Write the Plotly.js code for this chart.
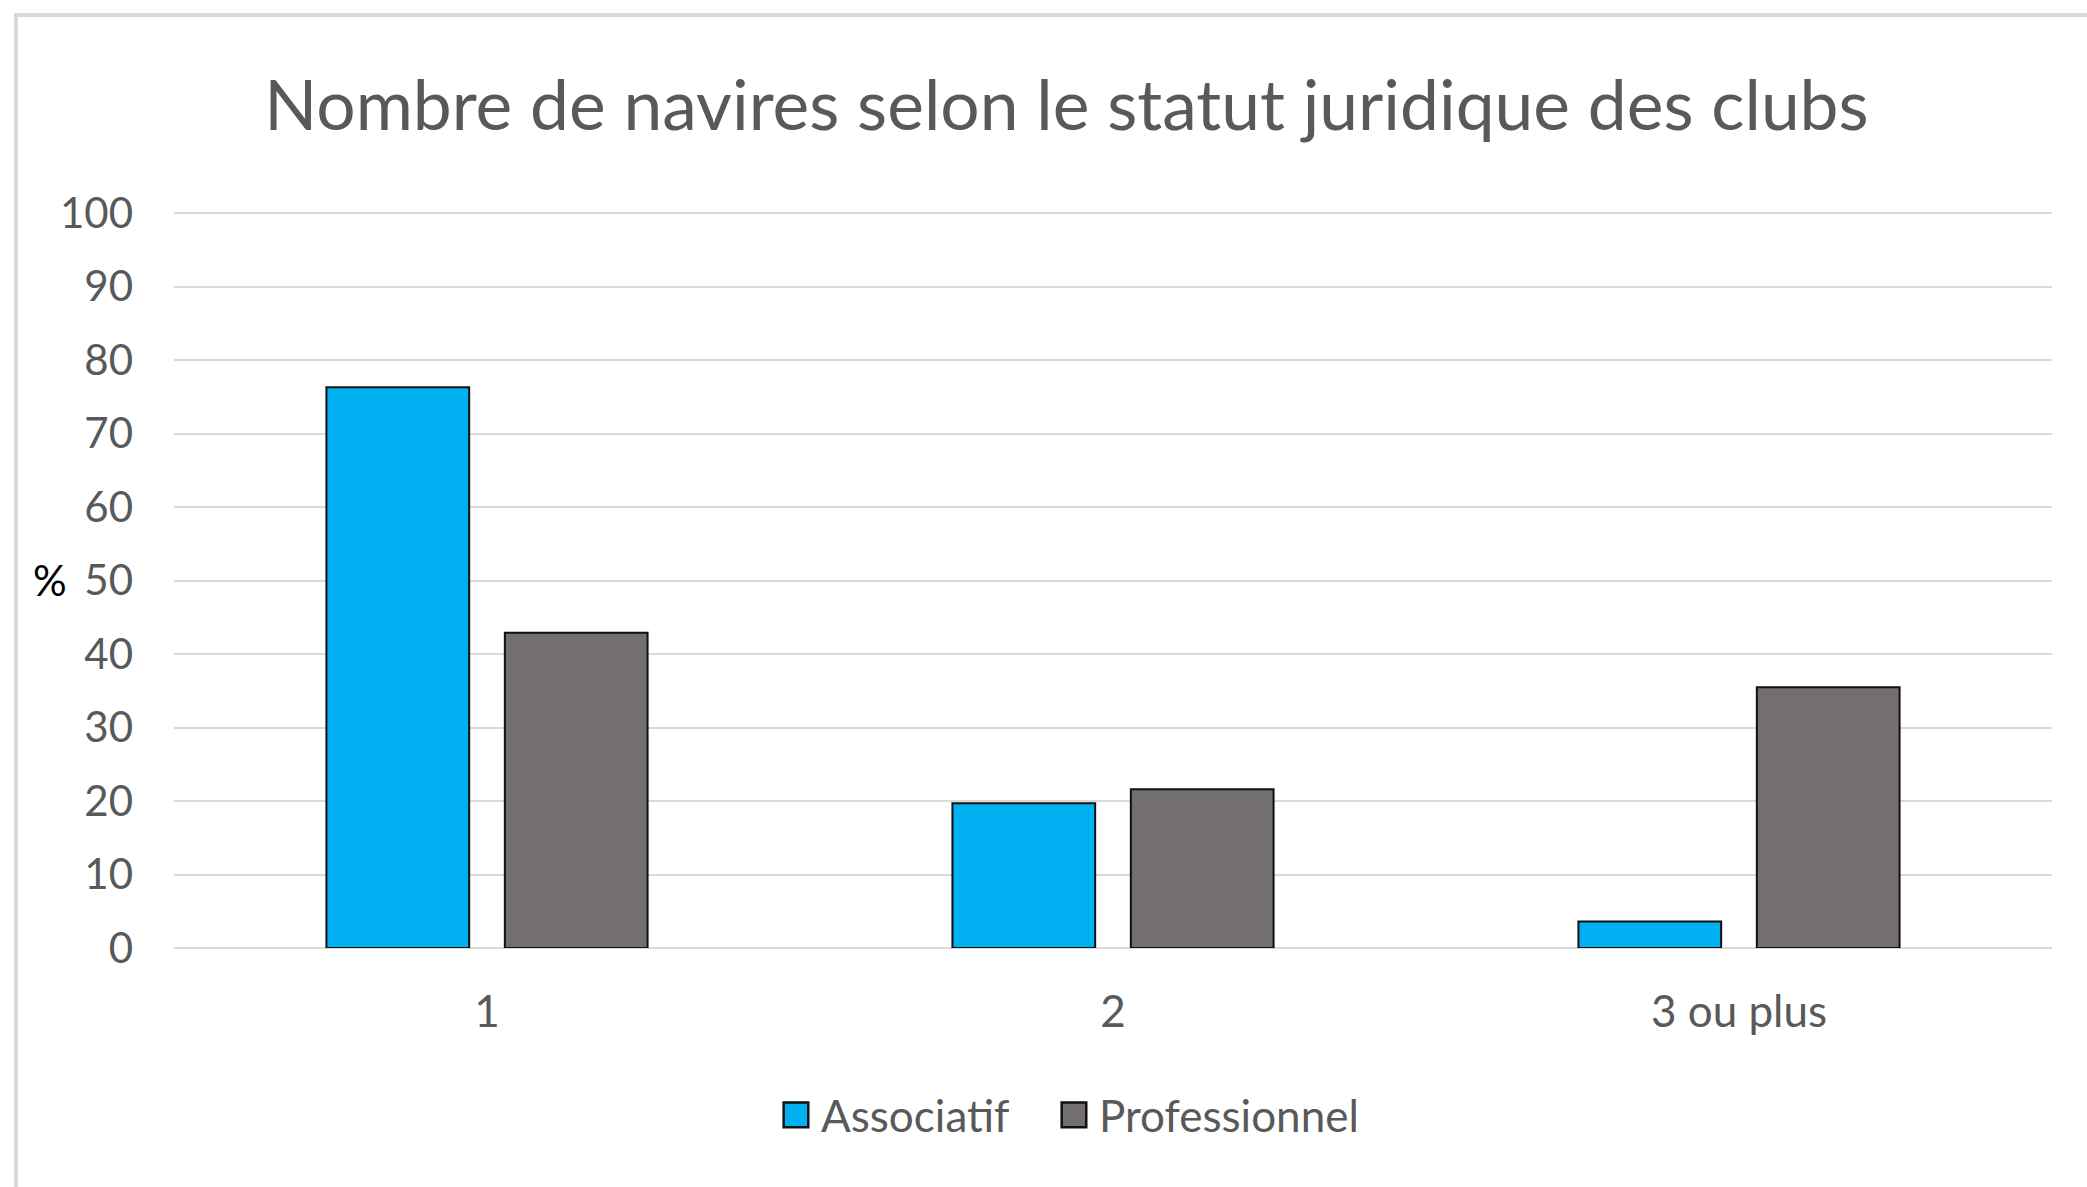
<!DOCTYPE html>
<html>
<head>
<meta charset="utf-8">
<script src="https://cdn.plot.ly/plotly-3.0.1.min.js"></script>
<style>
  html, body { margin: 0; padding: 0; background: #ffffff; overflow: hidden; }
  #wrap { position: relative; width: 2087px; height: 1187px; }
  #chart { position: absolute; left: 0; top: 0; width: 2087px; height: 1187px; }
  #frame { position: absolute; left: 14px; top: 13px; width: 3000px; height: 3000px;
           border-left: 4px solid #d9d9d9; border-top: 4px solid #d9d9d9; pointer-events: none; }
</style>
</head>
<body>
<div id="wrap">
  <div id="chart"></div>
  <div id="frame"></div>
</div>
<script>
// Data
const categories = ["1", "2", "3 ou plus"];
const associatif = [76.3, 19.7, 3.6];
const professionnel = [42.9, 21.6, 35.5];
const seriesNames = ["Associatif", "Professionnel"];
const yTicks = [0, 10, 20, 30, 40, 50, 60, 70, 80, 90, 100];
const chartTitle = "Nombre de navires selon le statut juridique des clubs";
const yLabel = "%";

const FONT = "Lato, 'Open Sans', sans-serif";
const GREY = "#595959";

const traces = [
  {
    type: "bar", name: seriesNames[0], x: categories, y: associatif,
    marker: { color: "#00B0F0", line: { color: "#111111", width: 2 } },
    hoverinfo: "x+y+name"
  },
  {
    type: "bar", name: seriesNames[1], x: categories, y: professionnel,
    marker: { color: "#736F6E", line: { color: "#111111", width: 2 } },
    hoverinfo: "x+y+name"
  }
];

const layout = {
  width: 2087, height: 1187,
  margin: { l: 174, r: 35, t: 211, b: 239 },
  paper_bgcolor: "#ffffff", plot_bgcolor: "#ffffff",
  font: { family: FONT, color: GREY, size: 42 },
  title: {
    text: chartTitle, xref: "container", x: 0.511, xanchor: "center",
    yref: "container", y: 0.911, yanchor: "middle",
    font: { family: FONT, size: 69.5, color: GREY }
  },
  barmode: "group", bargap: 0.43, bargroupgap: 0.2,
  xaxis: {
    type: "category", showgrid: false, zeroline: false, showline: false,
    ticks: "", ticklabelstandoff: 34,
    tickfont: { family: FONT, size: 44, color: GREY }
  },
  yaxis: {
    range: [0, 100.3], tickvals: yTicks, ticks: "",
    showgrid: true, gridcolor: "#d9d9d9", gridwidth: 2,
    zeroline: true, zerolinecolor: "#d9d9d9", zerolinewidth: 2,
    showline: false, ticklabelstandoff: 40,
    tickfont: { family: FONT, size: 42, color: GREY }
  },
  showlegend: true,
  legend: {
    orientation: "h", xref: "paper", x: 0.3232, xanchor: "left",
    yref: "paper", y: -0.227, yanchor: "middle",
    bgcolor: "rgba(0,0,0,0)",
    font: { family: FONT, size: 44, color: GREY },
    itemwidth: 30, tracegroupgap: 0, entrywidth: 233
  },
  annotations: [
    {
      text: yLabel, xref: "paper", yref: "paper", x: -0.066, y: 0.5,
      xanchor: "center", yanchor: "middle", showarrow: false,
      font: { family: FONT, size: 42, color: "#000000" }
    }
  ]
};

Plotly.newPlot("chart", traces, layout, { displayModeBar: false, staticPlot: true }).then(function (gd) {
  // let the last legend label overflow its fixed entry width
  gd.querySelectorAll(".legend [clip-path]").forEach(function (el) {
    el.removeAttribute("clip-path");
  });
  // enlarge legend swatches (keep Plotly's own positioning transform)
  gd.querySelectorAll(".legend .legendpoints path").forEach(function (p) {
    const t = p.getAttribute("transform") || "";
    p.setAttribute("transform", "translate(-5,0) " + t + " scale(2.05)");
    p.style.strokeWidth = "1.2px";
  });
});
</script>
</body>
</html>
